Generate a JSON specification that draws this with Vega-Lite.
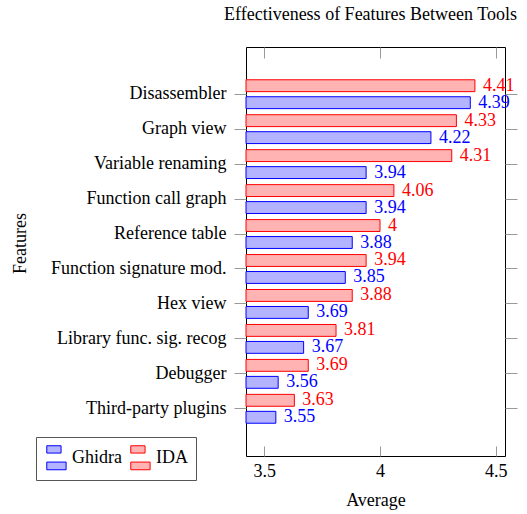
{
  "$schema": "https://vega.github.io/schema/vega-lite/v6.json",
  "width": 259,
  "height": 409,
  "autosize": {"type": "none"},
  "padding": {"left": 246, "top": 47, "right": 22, "bottom": 58},
  "background": "white",
  "title": {"text": "Effectiveness of Features Between Tools", "font": "Liberation Serif", "fontSize": 18, "fontWeight": "normal", "color": "black", "anchor": "middle", "frame": "group", "offset": 9, "baseline": "alphabetic", "dx": -5},
  "config": {"view": {"stroke": "black", "strokeWidth": 1}, "font": "Liberation Serif"},
  "data": {"values": [
    {"feature": "Disassembler", "tool": "IDA", "value": 4.41},
    {"feature": "Disassembler", "tool": "Ghidra", "value": 4.39},
    {"feature": "Graph view", "tool": "IDA", "value": 4.33},
    {"feature": "Graph view", "tool": "Ghidra", "value": 4.22},
    {"feature": "Variable renaming", "tool": "IDA", "value": 4.31},
    {"feature": "Variable renaming", "tool": "Ghidra", "value": 3.94},
    {"feature": "Function call graph", "tool": "IDA", "value": 4.06},
    {"feature": "Function call graph", "tool": "Ghidra", "value": 3.94},
    {"feature": "Reference table", "tool": "IDA", "value": 4},
    {"feature": "Reference table", "tool": "Ghidra", "value": 3.88},
    {"feature": "Function signature mod.", "tool": "IDA", "value": 3.94},
    {"feature": "Function signature mod.", "tool": "Ghidra", "value": 3.85},
    {"feature": "Hex view", "tool": "IDA", "value": 3.88},
    {"feature": "Hex view", "tool": "Ghidra", "value": 3.69},
    {"feature": "Library func. sig. recog", "tool": "IDA", "value": 3.81},
    {"feature": "Library func. sig. recog", "tool": "Ghidra", "value": 3.67},
    {"feature": "Debugger", "tool": "IDA", "value": 3.69},
    {"feature": "Debugger", "tool": "Ghidra", "value": 3.56},
    {"feature": "Third-party plugins", "tool": "IDA", "value": 3.63},
    {"feature": "Third-party plugins", "tool": "Ghidra", "value": 3.55}
  ]},
  "layer": [
    {
      "mark": {"type": "bar", "strokeWidth": 1},
      "encoding": {
        "y": {"field": "feature", "type": "nominal",
          "sort": ["Disassembler", "Graph view", "Variable renaming", "Function call graph", "Reference table", "Function signature mod.", "Hex view", "Library func. sig. recog", "Debugger", "Third-party plugins"],
          "scale": {"paddingInner": 0, "paddingOuter": 0.85},
          "axis": {"orient": "left", "title": "Features", "titleFont": "Liberation Serif", "titleFontSize": 18, "titleFontWeight": "normal", "titleColor": "black", "titleAngle": -90, "titleBaseline": "alphabetic", "titleAlign": "center", "titleX": -221, "titleY": 196,
            "labelFont": "Liberation Serif", "labelFontSize": 18, "labelColor": "black", "labelPadding": 8, "labelLimit": 300, "tickSize": 12, "tickColor": "#999999", "tickWidth": 1, "domain": false, "grid": false}},
        "yOffset": {"field": "tool", "type": "nominal", "sort": ["IDA", "Ghidra"], "scale": {"paddingInner": 0.3, "paddingOuter": 0.18}},
        "x": {"field": "value", "type": "quantitative", "scale": {"domain": [3.421, 4.54], "nice": false, "zero": false},
          "axis": {"orient": "bottom", "values": [3.5, 4, 4.5], "format": ".2~f", "title": "Average", "titleFont": "Liberation Serif", "titleFontSize": 18, "titleFontWeight": "normal", "titleColor": "black", "titleBaseline": "alphabetic", "titleY": 49, "titleX": 129.5,
            "labelFont": "Liberation Serif", "labelFontSize": 18, "labelColor": "black", "labelPadding": 16, "labelFlush": false, "tickSize": -10, "tickColor": "#999999", "tickWidth": 1, "domain": false, "grid": false}},
        "x2": {"datum": 3.421},
        "fill": {"field": "tool", "type": "nominal", "scale": {"domain": ["Ghidra", "IDA"], "range": ["#b3b3ff", "#ffb3b3"]},
          "legend": {"title": null, "orient": "none", "legendX": -210, "legendY": 390, "direction": "horizontal", "symbolType": "M-0.81,-1H0.38V-0.39H-0.81Z M-0.81,0.36H0.8V1H-0.81Z", "symbolSize": 576, "symbolStrokeWidth": 1, "symbolOpacity": 1, "labelFont": "Liberation Serif", "labelFontSize": 18, "labelColor": "black", "labelOffset": 3, "columnPadding": 6, "padding": 8, "strokeColor": "#555555", "fillColor": "white"}},
        "stroke": {"field": "tool", "type": "nominal", "scale": {"domain": ["Ghidra", "IDA"], "range": ["#0000ff", "#ff0000"]},
          "legend": {"title": null, "orient": "none", "legendX": -210, "legendY": 390, "direction": "horizontal", "symbolType": "M-0.81,-1H0.38V-0.39H-0.81Z M-0.81,0.36H0.8V1H-0.81Z", "symbolSize": 576, "symbolStrokeWidth": 1, "symbolOpacity": 1, "labelFont": "Liberation Serif", "labelFontSize": 18, "labelColor": "black", "labelOffset": 3, "columnPadding": 6, "padding": 8, "strokeColor": "#555555", "fillColor": "white"}}
      }
    },
    {
      "mark": {"type": "text", "align": "left", "baseline": "middle", "dx": 8, "fontSize": 18, "font": "Liberation Serif"},
      "encoding": {
        "y": {"field": "feature", "type": "nominal",
          "sort": ["Disassembler", "Graph view", "Variable renaming", "Function call graph", "Reference table", "Function signature mod.", "Hex view", "Library func. sig. recog", "Debugger", "Third-party plugins"],
          "axis": {"orient": "right", "title": null, "labels": false, "tickSize": 12, "tickColor": "#999999", "tickWidth": 1, "domain": false, "grid": false}},
        "yOffset": {"field": "tool", "type": "nominal", "sort": ["IDA", "Ghidra"]},
        "x": {"field": "value", "type": "quantitative",
          "axis": {"orient": "top", "title": null, "labels": false, "values": [3.5, 4, 4.5], "tickSize": -11, "tickColor": "#999999", "tickWidth": 1, "domain": false, "grid": false}},
        "text": {"field": "value", "type": "nominal"},
        "color": {"field": "tool", "type": "nominal", "scale": {"domain": ["Ghidra", "IDA"], "range": ["#0000ff", "#ff0000"]}, "legend": null}
      }
    }
  ],
  "resolve": {"axis": {"x": "independent", "y": "independent"}}
}
